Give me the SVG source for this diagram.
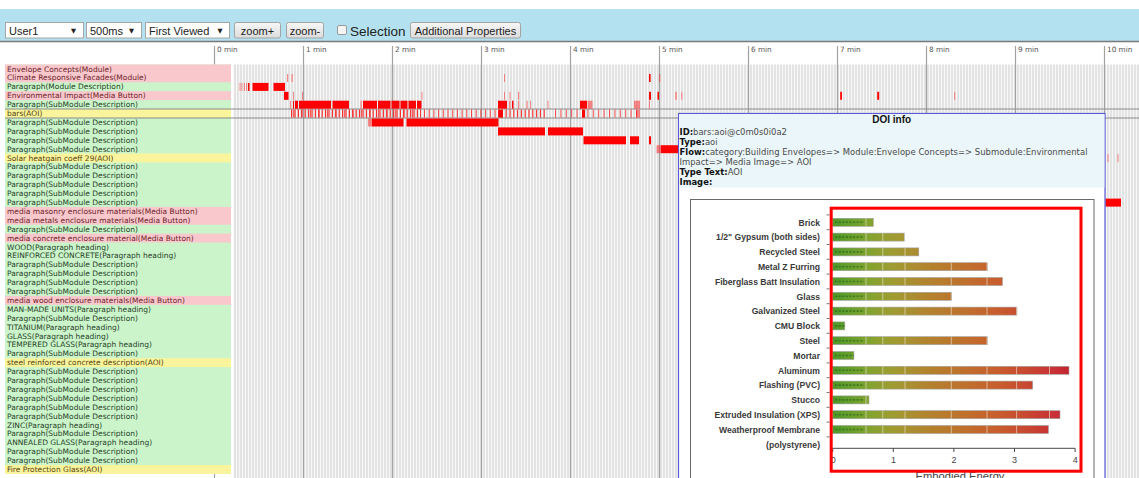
<svg xmlns="http://www.w3.org/2000/svg" width="1139" height="478" viewBox="0 0 1139 478">
<defs>
<style>
.ui{font-family:"Liberation Sans",Arial,sans-serif;font-size:11px;fill:#222}
.arw{font-family:"DejaVu Sans",sans-serif;font-size:6.5px;fill:#222}
.sel{fill:#fff;stroke:#a6a6a6;stroke-width:1}
.btn{fill:url(#btnGrad);stroke:#a3a3a3;stroke-width:1}
.tick{font-family:"DejaVu Sans",sans-serif;font-size:7.3px;fill:#555}
.tl{stroke:#a2a2a2;stroke-width:1.2}
.lb{font-family:"DejaVu Sans",sans-serif;font-size:7.5px}
.lp{fill:#6e1c2a}
.lg{fill:#263f26}
.ly{fill:#564410}
.ev{fill:#ff0000}
.evl{fill:#ff1a1a;opacity:.5}
.dk{font-family:"DejaVu Sans",sans-serif;font-size:8.45px;fill:#4a4a4a}
.k{font-weight:bold;fill:#111}
.cat{font-family:"Liberation Sans",Arial,sans-serif;font-size:8.6px;font-weight:bold;fill:#3a3a3a;text-anchor:end}
.bar{fill:url(#heat);stroke:#a0a0a0;stroke-width:.6}
.ax{font-family:"Liberation Sans",Arial,sans-serif;font-size:9px;fill:#444;text-anchor:middle}
</style>
<linearGradient id="btnGrad" x1="0" y1="0" x2="0" y2="1">
<stop offset="0" stop-color="#f7f7f7"/>
<stop offset="1" stop-color="#dcdcdc"/>
</linearGradient>
<pattern id="stripes" width="3" height="10" patternUnits="userSpaceOnUse">
<rect width="3" height="10" fill="#e3e3e3"/>
<rect x="2" width="1" height="10" fill="#f8f8f8"/>
</pattern>
<linearGradient id="heat" gradientUnits="userSpaceOnUse" x1="833" y1="0" x2="1075" y2="0">
<stop offset="0" stop-color="#4f9a2a"/>
<stop offset="0.14" stop-color="#7fa42e"/>
<stop offset="0.25" stop-color="#a09c32"/>
<stop offset="0.38" stop-color="#b2852f"/>
<stop offset="0.55" stop-color="#c0702e"/>
<stop offset="0.68" stop-color="#c85e2e"/>
<stop offset="0.8" stop-color="#c84832"/>
<stop offset="0.92" stop-color="#c83036"/>
<stop offset="1" stop-color="#bf2030"/>
</linearGradient>
<clipPath id="barClip">
<rect x="832.7" y="218.3" width="40.6" height="8"/>
<rect x="832.7" y="233.1" width="71.5" height="8"/>
<rect x="832.7" y="247.9" width="86.1" height="8"/>
<rect x="832.7" y="262.7" width="154.5" height="8"/>
<rect x="832.7" y="277.5" width="169.7" height="8"/>
<rect x="832.7" y="292.3" width="118.8" height="8"/>
<rect x="832.7" y="307.1" width="184.2" height="8"/>
<rect x="832.7" y="321.9" width="12.1" height="8"/>
<rect x="832.7" y="336.7" width="154.5" height="8"/>
<rect x="832.7" y="351.5" width="21.2" height="8"/>
<rect x="832.7" y="366.3" width="236.3" height="8"/>
<rect x="832.7" y="381.1" width="200" height="8"/>
<rect x="832.7" y="395.9" width="36.3" height="8"/>
<rect x="832.7" y="410.7" width="227.3" height="8"/>
<rect x="832.7" y="425.5" width="215.7" height="8"/>
</clipPath>
</defs>

<rect width="1139" height="478" fill="#fff"/>

<!-- toolbar -->
<g id="toolbar">
<rect x="0" y="9" width="1139" height="32" fill="#b4e1f0"/>
<line x1="0" y1="41.5" x2="1139" y2="41.5" stroke="#7a7a7a" stroke-width="1.5"/>
<rect class="sel" x="5.5" y="22.5" width="78" height="15.5"/>
<text class="ui" x="9" y="34.5">User1</text>
<text class="arw" x="71" y="33">▼</text>
<rect class="sel" x="86.5" y="22.5" width="55" height="15.5"/>
<text class="ui" x="90" y="34.5">500ms</text>
<text class="arw" x="129" y="33">▼</text>
<rect class="sel" x="145.5" y="22.5" width="84" height="15.5"/>
<text class="ui" x="149" y="34.5">First Viewed</text>
<text class="arw" x="217.5" y="33">▼</text>
<rect class="btn" x="234.5" y="22.5" width="46" height="15.5" rx="2"/>
<text class="ui" x="257.5" y="34.5" text-anchor="middle">zoom+</text>
<rect class="btn" x="286.5" y="22.5" width="37" height="15.5" rx="2"/>
<text class="ui" x="305" y="34.5" text-anchor="middle">zoom-</text>
<rect x="337.5" y="25.5" width="9" height="9" rx="1.5" fill="#f4f4f4" stroke="#9a9a9a"/>
<text class="ui" x="350" y="36" style="font-size:13.5px">Selection</text>
<rect class="btn" x="410.5" y="22.5" width="110" height="15.5" rx="2"/>
<text class="ui" x="465.5" y="34.5" text-anchor="middle">Additional Properties</text>
</g>

<!-- timeline background and minute ticks -->
<g id="timeline">
<rect x="233" y="64.5" width="906" height="414" fill="url(#stripes)"/>
<line class="tl" x1="214.5" y1="46" x2="214.5" y2="478"/>
<line class="tl" x1="303.5" y1="46" x2="303.5" y2="478"/>
<line class="tl" x1="392.5" y1="46" x2="392.5" y2="478"/>
<line class="tl" x1="481.5" y1="46" x2="481.5" y2="478"/>
<line class="tl" x1="570.5" y1="46" x2="570.5" y2="478"/>
<line class="tl" x1="659.5" y1="46" x2="659.5" y2="478"/>
<line class="tl" x1="748.5" y1="46" x2="748.5" y2="478"/>
<line class="tl" x1="837.5" y1="46" x2="837.5" y2="478"/>
<line class="tl" x1="926.5" y1="46" x2="926.5" y2="478"/>
<line class="tl" x1="1015.5" y1="46" x2="1015.5" y2="478"/>
<line class="tl" x1="1104.5" y1="46" x2="1104.5" y2="478"/>
<text class="tick" x="217" y="52">0 min</text>
<text class="tick" x="306" y="52">1 min</text>
<text class="tick" x="395" y="52">2 min</text>
<text class="tick" x="484" y="52">3 min</text>
<text class="tick" x="573" y="52">4 min</text>
<text class="tick" x="662" y="52">5 min</text>
<text class="tick" x="751" y="52">6 min</text>
<text class="tick" x="840" y="52">7 min</text>
<text class="tick" x="929" y="52">8 min</text>
<text class="tick" x="1018" y="52">9 min</text>
<text class="tick" x="1107" y="52">10 min</text>
</g>

<!-- row labels -->
<g id="labels">
<rect x="5" y="64.5" width="226" height="409.4" fill="#cbf4cb"/>
<g fill="#f8c8cc">
<rect x="5" y="64.5" width="226" height="17.8"/>
<rect x="5" y="91.2" width="226" height="8.9"/>
<rect x="5" y="206.9" width="226" height="17.8"/>
<rect x="5" y="233.6" width="226" height="8.9"/>
<rect x="5" y="295.9" width="226" height="8.9"/>
</g>
<g fill="#faf59c">
<rect x="5" y="109" width="226" height="8.9"/>
<rect x="5" y="153.5" width="226" height="8.9"/>
<rect x="5" y="358.2" width="226" height="8.9"/>
<rect x="5" y="465" width="226" height="8.9"/>
</g>
<g class="lb">
<text class="lp" x="7" y="71.5">Envelope Concepts(Module)</text>
<text class="lp" x="7" y="80.4">Climate Responsive Facades(Module)</text>
<text class="lg" x="7" y="89.3">Paragraph(Module Description)</text>
<text class="lp" x="7" y="98.2">Environmental Impact(Media Button)</text>
<text class="lg" x="7" y="107.1">Paragraph(SubModule Description)</text>
<text class="ly" x="7" y="116">bars(AOI)</text>
<text class="lg" x="7" y="124.9">Paragraph(SubModule Description)</text>
<text class="lg" x="7" y="133.8">Paragraph(SubModule Description)</text>
<text class="lg" x="7" y="142.7">Paragraph(SubModule Description)</text>
<text class="lg" x="7" y="151.6">Paragraph(SubModule Description)</text>
<text class="ly" x="7" y="160.5">Solar heatgain coeff 29(AOI)</text>
<text class="lg" x="7" y="169.4">Paragraph(SubModule Description)</text>
<text class="lg" x="7" y="178.3">Paragraph(SubModule Description)</text>
<text class="lg" x="7" y="187.2">Paragraph(SubModule Description)</text>
<text class="lg" x="7" y="196.1">Paragraph(SubModule Description)</text>
<text class="lg" x="7" y="205">Paragraph(SubModule Description)</text>
<text class="lp" x="7" y="213.9">media masonry enclosure materials(Media Button)</text>
<text class="lp" x="7" y="222.8">media metals enclosure materials(Media Button)</text>
<text class="lg" x="7" y="231.7">Paragraph(SubModule Description)</text>
<text class="lp" x="7" y="240.6">media concrete enclosure material(Media Button)</text>
<text class="lg" x="7" y="249.5">WOOD(Paragraph heading)</text>
<text class="lg" x="7" y="258.4">REINFORCED CONCRETE(Paragraph heading)</text>
<text class="lg" x="7" y="267.3">Paragraph(SubModule Description)</text>
<text class="lg" x="7" y="276.2">Paragraph(SubModule Description)</text>
<text class="lg" x="7" y="285.1">Paragraph(SubModule Description)</text>
<text class="lg" x="7" y="294">Paragraph(SubModule Description)</text>
<text class="lp" x="7" y="302.9">media wood enclosure materials(Media Button)</text>
<text class="lg" x="7" y="311.8">MAN-MADE UNITS(Paragraph heading)</text>
<text class="lg" x="7" y="320.7">Paragraph(SubModule Description)</text>
<text class="lg" x="7" y="329.6">TITANIUM(Paragraph heading)</text>
<text class="lg" x="7" y="338.5">GLASS(Paragraph heading)</text>
<text class="lg" x="7" y="347.4">TEMPERED GLASS(Paragraph heading)</text>
<text class="lg" x="7" y="356.3">Paragraph(SubModule Description)</text>
<text class="ly" x="7" y="365.2">steel reinforced concrete description(AOI)</text>
<text class="lg" x="7" y="374.1">Paragraph(SubModule Description)</text>
<text class="lg" x="7" y="383">Paragraph(SubModule Description)</text>
<text class="lg" x="7" y="391.9">Paragraph(SubModule Description)</text>
<text class="lg" x="7" y="400.8">Paragraph(SubModule Description)</text>
<text class="lg" x="7" y="409.7">Paragraph(SubModule Description)</text>
<text class="lg" x="7" y="418.6">Paragraph(SubModule Description)</text>
<text class="lg" x="7" y="427.5">ZINC(Paragraph heading)</text>
<text class="lg" x="7" y="436.4">Paragraph(SubModule Description)</text>
<text class="lg" x="7" y="445.3">ANNEALED GLASS(Paragraph heading)</text>
<text class="lg" x="7" y="454.2">Paragraph(SubModule Description)</text>
<text class="lg" x="7" y="463.1">Paragraph(SubModule Description)</text>
<text class="ly" x="7" y="472">Fire Protection Glass(AOI)</text>
</g>
</g>

<!-- selected row outline -->
<g id="selected-row" stroke="#8a8a8a" stroke-width="1">
<line x1="5" y1="109" x2="1139" y2="109"/>
<line x1="5" y1="118" x2="1139" y2="118"/>
</g>

<!-- viewing events -->
<g id="events">
<!-- Climate Responsive Facades -->
<rect class="evl" x="287" y="74" width="1.2" height="8"/>
<rect class="evl" x="291.5" y="74" width="1.2" height="8"/>
<rect class="evl" x="504" y="74" width="1" height="8"/>
<rect class="ev" x="649" y="74" width="1.6" height="8"/>
<rect class="evl" x="659" y="74" width="1.2" height="8"/>
<!-- Paragraph (Module Description) -->
<rect class="evl" x="239.5" y="82.9" width="1" height="8"/>
<rect class="evl" x="241.5" y="82.9" width="1" height="8"/>
<rect class="evl" x="244" y="82.9" width="1" height="8"/>
<rect class="evl" x="246" y="82.9" width="1" height="8"/>
<rect class="ev" x="248" y="82.9" width="1.5" height="8"/>
<rect class="ev" x="252.5" y="82.9" width="16" height="8"/>
<rect class="ev" x="273.5" y="82.9" width="11.5" height="8"/>
<!-- Environmental Impact -->
<rect class="ev" x="284" y="91.8" width="4.5" height="8"/>
<rect class="evl" x="293" y="91.8" width="1" height="8"/>
<rect class="evl" x="302" y="91.8" width="1" height="8"/>
<rect class="evl" x="421.5" y="91.8" width="1" height="8"/>
<rect class="evl" x="504" y="91.8" width="1" height="8"/>
<rect class="evl" x="509.5" y="91.8" width="1" height="8"/>
<rect class="evl" x="518" y="91.8" width="1.2" height="8"/>
<rect class="ev" x="649" y="91.8" width="2" height="8"/>
<rect class="ev" x="657.5" y="91.8" width="1.5" height="8"/>
<rect class="evl" x="675.3" y="91.8" width="1.5" height="8"/>
<rect class="evl" x="681.3" y="91.8" width="1" height="8"/>
<rect class="ev" x="840.2" y="91.8" width="1.8" height="8"/>
<rect class="ev" x="877.2" y="91.8" width="2" height="8"/>
<rect class="evl" x="954.2" y="91.8" width="1" height="8"/>
<!-- Paragraph (SubModule Description) -->
<rect class="evl" x="290" y="100.7" width="1" height="8"/>
<rect class="ev" x="293" y="100.7" width="1" height="8"/>
<rect class="ev" x="295" y="100.7" width="3" height="8"/>
<rect class="ev" x="299" y="100.7" width="32" height="8"/>
<rect class="ev" x="332.5" y="100.7" width="16.5" height="8"/>
<rect class="evl" x="360.5" y="100.7" width="1.2" height="8"/>
<rect class="ev" x="363" y="100.7" width="14" height="8"/>
<rect class="ev" x="378" y="100.7" width="12.5" height="8"/>
<rect class="ev" x="391.5" y="100.7" width="8" height="8"/>
<rect class="ev" x="400.5" y="100.7" width="7" height="8"/>
<rect class="ev" x="408.5" y="100.7" width="7.5" height="8"/>
<rect class="ev" x="417" y="100.7" width="4.5" height="8"/>
<rect class="ev" x="498" y="100.7" width="9" height="8"/>
<rect class="evl" x="509" y="100.7" width="1.5" height="8"/>
<rect class="ev" x="512" y="100.7" width="1.5" height="8"/>
<rect class="evl" x="518" y="100.7" width="1.2" height="8"/>
<rect class="evl" x="526.5" y="100.7" width="1.2" height="8"/>
<rect class="evl" x="530" y="100.7" width="1" height="8"/>
<rect class="evl" x="547.5" y="100.7" width="1" height="8"/>
<rect class="ev" x="580" y="100.7" width="7" height="8"/>
<rect class="evl" x="587.5" y="100.7" width="5" height="8"/>
<rect class="evl" x="634" y="100.7" width="6" height="8"/>
<rect class="evl" x="649" y="100.7" width="1" height="8"/>
<!-- bars (AOI) -->
<g stroke="#ff0000" stroke-width="8">
<line x1="291" y1="113.5" x2="421" y2="113.5" stroke-dasharray="1.2 2.2" opacity=".8"/>
<line x1="293" y1="113.5" x2="421" y2="113.5" stroke-dasharray="1 7.5" opacity=".6"/>
<line x1="424" y1="113.5" x2="497" y2="113.5" stroke-dasharray="1 3.7" opacity=".7"/>
<line x1="498" y1="113.5" x2="545" y2="113.5" stroke-dasharray="1.2 2.6" opacity=".75"/>
<line x1="555" y1="113.5" x2="641" y2="113.5" stroke-dasharray="1 4.4" opacity=".65"/>
</g>
<rect class="ev" x="498.5" y="109.6" width="4.5" height="8"/>
<rect class="ev" x="582" y="109.6" width="3" height="8"/>
<rect class="evl" x="636" y="109.6" width="4" height="8"/>
<!-- Paragraph rows -->
<rect class="evl" x="368" y="118.5" width="4" height="8"/>
<rect class="ev" x="372" y="118.5" width="31.5" height="8"/>
<rect class="ev" x="406.5" y="118.5" width="92" height="8"/>
<rect class="ev" x="498" y="127.4" width="47" height="8"/>
<rect class="ev" x="548" y="127.4" width="35" height="8"/>
<rect class="ev" x="583.5" y="136.3" width="42.5" height="8"/>
<rect class="ev" x="630" y="136.3" width="9" height="8"/>
<rect class="ev" x="649" y="136.3" width="2" height="8"/>
<rect class="evl" x="656.5" y="145.2" width="4.5" height="8"/>
<rect class="ev" x="661" y="145.2" width="17.5" height="8"/>
<!-- later views -->
<rect class="evl" x="1107.5" y="154.1" width="1" height="8"/>
<rect class="evl" x="1117.5" y="154.1" width="1" height="8"/>
<rect class="ev" x="1105.5" y="198.6" width="15.5" height="8"/>
</g>

<!-- DOI info popup -->
<g id="doi-info">
<rect x="678.5" y="113.5" width="426.5" height="380" fill="#fff" stroke="#5a5ad8" stroke-width="1.2"/>
<rect x="679.1" y="114.1" width="425.3" height="73.4" fill="#eaf6f9"/>
<text x="891.7" y="123" text-anchor="middle" style="font-family:'Liberation Sans',Arial,sans-serif;font-size:10px;font-weight:bold;fill:#111">DOI info</text>
<text class="dk" x="679.5" y="135"><tspan class="k">ID:</tspan>bars:aoi@c0m0s0i0a2</text>
<text class="dk" x="679.5" y="145"><tspan class="k">Type:</tspan>aoi</text>
<text class="dk" x="679.5" y="155" textLength="408" lengthAdjust="spacing"><tspan class="k">Flow:</tspan>category:Building Envelopes=&gt; Module:Envelope Concepts=&gt; Submodule:Environmental</text>
<text class="dk" x="679.5" y="165">Impact=&gt; Media Image=&gt; AOI</text>
<text class="dk" x="679.5" y="175"><tspan class="k">Type Text:</tspan>AOI</text>
<text class="dk" x="679.5" y="185"><tspan class="k">Image:</tspan></text>
</g>

<!-- embodied energy chart image -->
<g id="chart">
<rect x="690.5" y="199.5" width="403.5" height="290" fill="#fff" stroke="#6a6a6a" stroke-width="1"/>
<g class="cat">
<text x="820" y="225.5">Brick</text>
<text x="820" y="240.3">1/2" Gypsum (both sides)</text>
<text x="820" y="255.1">Recycled Steel</text>
<text x="820" y="269.9">Metal Z Furring</text>
<text x="820" y="284.7">Fiberglass Batt Insulation</text>
<text x="820" y="299.5">Glass</text>
<text x="820" y="314.3">Galvanized Steel</text>
<text x="820" y="329.1">CMU Block</text>
<text x="820" y="343.9">Steel</text>
<text x="820" y="358.7">Mortar</text>
<text x="820" y="373.5">Aluminum</text>
<text x="820" y="388.3">Flashing  (PVC)</text>
<text x="820" y="403.1">Stucco</text>
<text x="820" y="417.9">Extruded Insulation (XPS)</text>
<text x="820" y="432.7">Weatherproof Membrane</text>
<text x="820" y="447.5">(polystyrene)</text>
</g>
<g stroke="#555" stroke-width="0.8">
<line x1="826.5" y1="214.9" x2="829.5" y2="214.9"/>
<line x1="826.5" y1="229.7" x2="829.5" y2="229.7"/>
<line x1="826.5" y1="244.5" x2="829.5" y2="244.5"/>
<line x1="826.5" y1="259.3" x2="829.5" y2="259.3"/>
<line x1="826.5" y1="274.1" x2="829.5" y2="274.1"/>
<line x1="826.5" y1="288.9" x2="829.5" y2="288.9"/>
<line x1="826.5" y1="303.7" x2="829.5" y2="303.7"/>
<line x1="826.5" y1="318.5" x2="829.5" y2="318.5"/>
<line x1="826.5" y1="333.3" x2="829.5" y2="333.3"/>
<line x1="826.5" y1="348.1" x2="829.5" y2="348.1"/>
<line x1="826.5" y1="362.9" x2="829.5" y2="362.9"/>
<line x1="826.5" y1="377.7" x2="829.5" y2="377.7"/>
<line x1="826.5" y1="392.5" x2="829.5" y2="392.5"/>
<line x1="826.5" y1="407.3" x2="829.5" y2="407.3"/>
<line x1="826.5" y1="422.1" x2="829.5" y2="422.1"/>
<line x1="826.5" y1="436.9" x2="829.5" y2="436.9"/>
</g>
<g class="bar">
<rect x="832.7" y="218.3" width="40.6" height="8"/>
<rect x="832.7" y="233.1" width="71.5" height="8"/>
<rect x="832.7" y="247.9" width="86.1" height="8"/>
<rect x="832.7" y="262.7" width="154.5" height="8"/>
<rect x="832.7" y="277.5" width="169.7" height="8"/>
<rect x="832.7" y="292.3" width="118.8" height="8"/>
<rect x="832.7" y="307.1" width="184.2" height="8"/>
<rect x="832.7" y="321.9" width="12.1" height="8"/>
<rect x="832.7" y="336.7" width="154.5" height="8"/>
<rect x="832.7" y="351.5" width="21.2" height="8"/>
<rect x="832.7" y="366.3" width="236.3" height="8"/>
<rect x="832.7" y="381.1" width="200" height="8"/>
<rect x="832.7" y="395.9" width="36.3" height="8"/>
<rect x="832.7" y="410.7" width="227.3" height="8"/>
<rect x="832.7" y="425.5" width="215.7" height="8"/>
</g>
<!-- segment dividers and dotted green band inside the bars -->
<g clip-path="url(#barClip)">
<g stroke="#e9dcc6" stroke-width="0.9" opacity="0.75">
<line x1="866" y1="215" x2="866" y2="440"/>
<line x1="882.8" y1="215" x2="882.8" y2="440"/>
<line x1="905" y1="215" x2="905" y2="440"/>
<line x1="951.3" y1="215" x2="951.3" y2="440"/>
<line x1="987" y1="215" x2="987" y2="440"/>
<line x1="1016.6" y1="215" x2="1016.6" y2="440"/>
<line x1="1049.5" y1="215" x2="1049.5" y2="440"/>
</g>
<g stroke="#2f6a1e" stroke-width="1.6" stroke-dasharray="2.2 1.4" opacity="0.7">
<line x1="835" y1="222.3" x2="864" y2="222.3"/>
<line x1="835" y1="237.1" x2="864" y2="237.1"/>
<line x1="835" y1="251.9" x2="864" y2="251.9"/>
<line x1="835" y1="266.7" x2="864" y2="266.7"/>
<line x1="835" y1="281.5" x2="864" y2="281.5"/>
<line x1="835" y1="296.3" x2="864" y2="296.3"/>
<line x1="835" y1="311.1" x2="864" y2="311.1"/>
<line x1="835" y1="325.9" x2="864" y2="325.9"/>
<line x1="835" y1="340.7" x2="864" y2="340.7"/>
<line x1="835" y1="355.5" x2="864" y2="355.5"/>
<line x1="835" y1="370.3" x2="864" y2="370.3"/>
<line x1="835" y1="385.1" x2="864" y2="385.1"/>
<line x1="835" y1="399.9" x2="864" y2="399.9"/>
<line x1="835" y1="414.7" x2="864" y2="414.7"/>
<line x1="835" y1="429.5" x2="864" y2="429.5"/>
</g>
</g>
<g stroke="#333" stroke-width="0.9">
<line x1="832.7" y1="448.3" x2="1075.1" y2="448.3"/>
<line x1="832.7" y1="448.3" x2="832.7" y2="452"/>
<line x1="893.3" y1="448.3" x2="893.3" y2="452"/>
<line x1="953.9" y1="448.3" x2="953.9" y2="452"/>
<line x1="1014.5" y1="448.3" x2="1014.5" y2="452"/>
<line x1="1075.1" y1="448.3" x2="1075.1" y2="452"/>
</g>
<g class="ax">
<text x="833.3" y="463">0</text>
<text x="893.5" y="463">1</text>
<text x="954" y="463">2</text>
<text x="1014.5" y="463">3</text>
<text x="1075.2" y="463">4</text>
</g>
<text x="960" y="479.5" text-anchor="middle" style="font-family:'Liberation Sans',Arial,sans-serif;font-size:11.2px;fill:#444">Embodied Energy</text>
<rect x="831.2" y="208.2" width="249.8" height="263" fill="none" stroke="#ff0000" stroke-width="3"/>
</g>
</svg>
